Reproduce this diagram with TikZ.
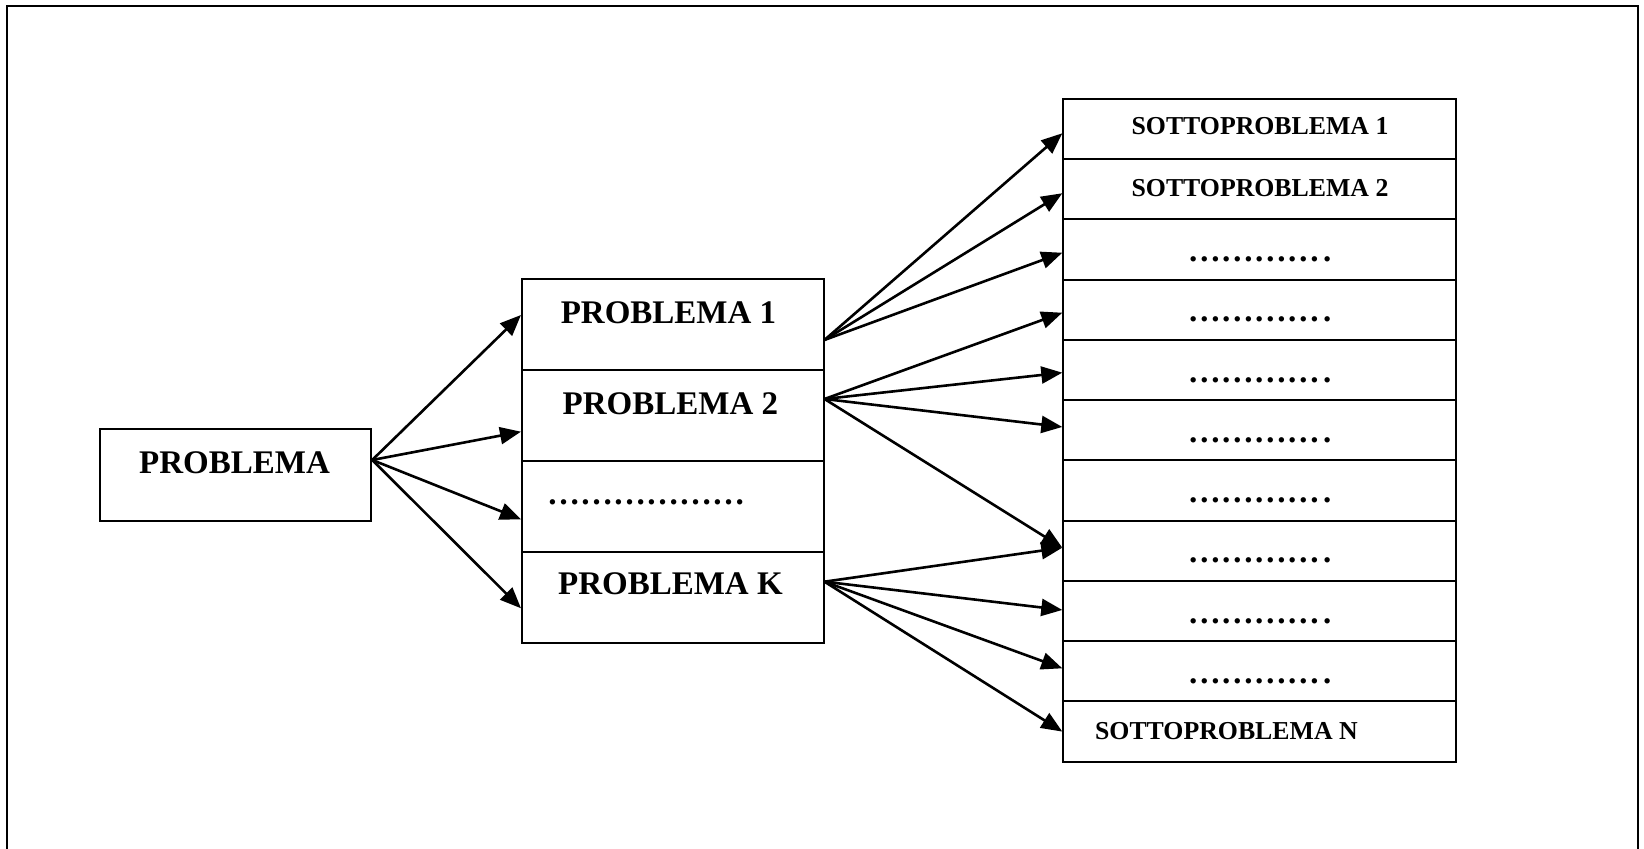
\documentclass[tikz,border=0pt]{standalone}
\usepackage{fontspec}
\setmainfont{Liberation Serif}
\usetikzlibrary{arrows.meta,calc}
\begin{document}
\begin{tikzpicture}[x=0.5pt,y=-0.5pt,
  bigbox/.style={draw,line width=1pt,inner sep=0pt,minimum width=135.85pt,minimum height=46.05pt},
  pbox/.style={draw,line width=1pt,inner sep=0pt,minimum width=150.75pt,minimum height=45.45pt},
  sbox/.style={draw,line width=1pt,inner sep=0pt,minimum width=196.35pt,minimum height=30.135pt},
  bigtxt/.style={inner sep=0pt,font=\fontsize{16.5pt}{18pt}\selectfont\bfseries},
  subtxt/.style={inner sep=0pt,font=\fontsize{12.9pt}{14pt}\selectfont\bfseries},
  dottxt/.style={inner sep=0pt,font=\fontsize{16.5pt}{18pt}\selectfont\bfseries},
  conn/.style={line width=1.3pt,-{Triangle[length=10.5pt,width=8.5pt]}}]
\useasboundingbox (0,0) rectangle (1644,849);
\clip (0,0) rectangle (1644,849);
\draw[line width=1.4pt] (7,870) -- (7,6) -- (1638,6) -- (1638,870);

% left box
\node[bigbox] (prob) at (235.35,475.35) {};
\node[bigtxt] (tprob) at (234.5,463) {PROBLEMA};

% middle column
\foreach \i/\y in {1/324.45,2/415.35,3/506.25,4/597.15}
  \node[pbox] (p\i) at (672.75,\y) {};
\node[bigtxt] (tp1) at (668.5,313) {PROBLEMA 1};
\node[bigtxt] (tp2) at (670.4,403.7) {PROBLEMA 2};
\node[dottxt] (tp3) at (646,502.7) {………………};
\node[bigtxt] (tp4) at (670.4,583.7) {PROBLEMA K};

% right column
\foreach \k in {1,...,11}
  \node[sbox] (s\k) at (1259.65,{128.9+(\k-1)*60.27}) {};
\node[subtxt] (ts1) at (1260,125.75) {SOTTOPROBLEMA 1};
\node[subtxt] (ts2) at (1260,188) {SOTTOPROBLEMA 2};
\foreach \k in {3,...,10}
  \node[dottxt] (ts\k) at ($(s\k.center)+(0,10)$) {…………\kern0.1em.};
\node[subtxt] (ts11) at (1226.4,731) {SOTTOPROBLEMA N};

% arrows from PROBLEMA
\foreach \i/\dy in {1/-9.45,2/16.35,3/13.05,4/11.15}
  \draw[conn] ($(prob.east)+(0,-15.35)$) -- ($(p\i.west)+(0,\dy)$);

% arrows from PROBLEMA 1
\foreach \k/\dy in {1/4.4,2/4.1,3/3.3}
  \draw[conn] ($(p1.east)+(0,15.5)$) -- ($(s\k.west)+(0,\dy)$);

% arrows from PROBLEMA 2
\foreach \k/\dy in {4/3,5/2.7,6/-3.3,8/-3.1}
  \draw[conn] ($(p2.east)+(0,-16.35)$) -- ($(s\k.west)+(0,\dy)$);

% arrows from PROBLEMA K
\foreach \k/\dy in {8/-3.1,9/-1.1,10/-3,11/0}
  \draw[conn] ($(p4.east)+(0,-15.45)$) -- ($(s\k.west)+(0,\dy)$);
\end{tikzpicture}
\end{document}
